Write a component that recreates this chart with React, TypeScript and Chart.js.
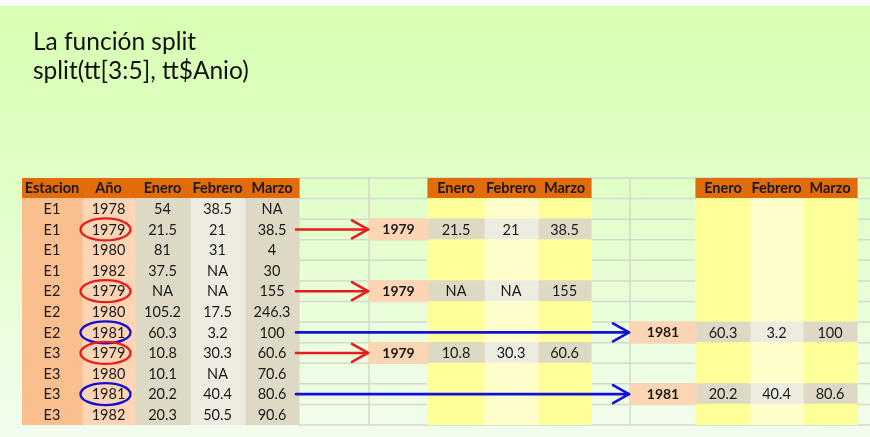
import { useEffect, useRef } from "react";
import { Chart, registerables } from "chart.js";
Chart.register(...registerables);

// ---------- data ----------
const titleLines = ["La función split", "split(tt[3:5], tt$Anio)"];
const columnNames = ["Estacion", "Año", "Enero", "Febrero", "Marzo"];
const valueNames = ["Enero", "Febrero", "Marzo"];
const estacion = ["E1", "E1", "E1", "E1", "E2", "E2", "E2", "E3", "E3", "E3", "E3"];
const anio = [1978, 1979, 1980, 1982, 1979, 1980, 1981, 1979, 1980, 1981, 1982];
const enero: (number | null)[] = [54, 21.5, 81, 37.5, null, 105.2, 60.3, 10.8, 10.1, 20.2, 20.3];
const febrero: (number | null)[] = [38.5, 21, 31, null, null, 17.5, 3.2, 30.3, null, 40.4, 50.5];
const marzo: (number | null)[] = [null, 38.5, 4, 30, 155, 246.3, 100, 60.6, 70.6, 80.6, 90.6];
const splitYears = [1979, 1981];

// ---------- layout / style ----------
const LEFT_COL_W = [60, 53, 55, 55, 54];
const GROUP_LAYOUT = [
  { gap: 70, yearW: 59, valW: [56, 54, 53] },
  { gap: 39, yearW: 66, valW: [54, 53, 54] },
];
const X_MAX = 848;
const HEADER = "#e26b0a";
const LEFT_COLORS = ["#fabf8f", "#fcd5b4", "#ddd9c4", "#eeece1", "#ddd9c4"];
const GROUP_COLORS = ["#ffff99", "#ffffcc", "#ffff99"];
const HIT_COLORS = ["#ddd9c4", "#eeece1", "#ddd9c4"];
const YEAR_HIT = "#fcd5b4";
const MARK_COLORS = ["#ec1b1b", "#1212d4"];
const FONT = "Lato, 'Open Sans', sans-serif";
const TEXT = "#1a1a1a";

const fmt = (v: number | null) => (v === null ? "NA" : String(v));
const valueCols = [enero, febrero, marzo];
const nRows = anio.length;
const labels = ["header", ...anio.map((_, i) => "r" + i)];

function buildDatasets() {
  const ds: any[] = [];
  let cur = 0;
  const leftCols = [estacion.map(String), anio.map(String), enero.map(fmt), febrero.map(fmt), marzo.map(fmt)];
  LEFT_COL_W.forEach((w, c) => {
    const x0 = cur, x1 = cur + w;
    cur = x1;
    ds.push({
      label: columnNames[c],
      data: labels.map(() => [x0, x1]),
      backgroundColor: labels.map((_, j) => (j === 0 ? HEADER : LEFT_COLORS[c])),
      texts: [columnNames[c], ...leftCols[c]],
      boldRows: false,
    });
  });
  const leftEnd = cur;
  const groupStarts: number[] = [];
  GROUP_LAYOUT.forEach((g, gi) => {
    const year = splitYears[gi];
    cur += g.gap;
    const y0 = cur, y1 = cur + g.yearW;
    groupStarts.push(y0);
    cur = y1;
    ds.push({
      label: "year" + year,
      data: labels.map((_, j) => (j > 0 && anio[j - 1] === year ? [y0, y1] : null)),
      backgroundColor: labels.map(() => YEAR_HIT),
      texts: labels.map((_, j) => (j > 0 && anio[j - 1] === year ? String(year) : null)),
      boldRows: true,
    });
    g.valW.forEach((w, k) => {
      const x0 = cur, x1 = cur + w;
      cur = x1;
      ds.push({
        label: valueNames[k] + year,
        data: labels.map(() => [x0, x1]),
        backgroundColor: labels.map((_, j) =>
          j === 0 ? HEADER : anio[j - 1] === year ? HIT_COLORS[k] : GROUP_COLORS[k]
        ),
        texts: labels.map((_, j) =>
          j === 0 ? valueNames[k] : anio[j - 1] === year ? fmt(valueCols[k][j - 1]) : null
        ),
        boldRows: false,
      });
    });
  });
  return { ds, leftEnd, groupStarts };
}

export default function App() {
  const ref = useRef<HTMLCanvasElement | null>(null);
  useEffect(() => {
    const canvas = ref.current!;
    const { ds, leftEnd, groupStarts } = buildDatasets();

    const bgPlugin = {
      id: "bg",
      beforeDraw(chart: any) {
        const ctx = chart.ctx;
        const W = chart.width, H = chart.height;
        ctx.save();
        ctx.fillStyle = "#ffffff";
        ctx.fillRect(0, 0, W, H);
        const g = ctx.createLinearGradient(0, 6, 0, H);
        g.addColorStop(0, "#d8ffb2");
        g.addColorStop(0.4, "#e0ffc6");
        g.addColorStop(1, "#f2fdee");
        ctx.fillStyle = g;
        ctx.fillRect(0, 6, W, H - 6);
        ctx.fillStyle = "#111111";
        ctx.font = `24.5px ${FONT}`;
        ctx.textBaseline = "alphabetic";
        ctx.textAlign = "left";
        ctx.fillText(titleLines[0], 33, 50);
        ctx.fillText(titleLines[1], 33, 79);
        ctx.restore();
      },
      beforeDatasetsDraw(chart: any) {
        const ctx = chart.ctx;
        const xs = chart.scales.x;
        const area = chart.chartArea;
        const band = (area.bottom - area.top) / labels.length;
        ctx.save();
        ctx.strokeStyle = "#d2dac9";
        ctx.lineWidth = 1.5;
        const xa = xs.getPixelForValue(leftEnd);
        const xb = xs.getPixelForValue(X_MAX);
        for (let k = 0; k <= labels.length; k++) {
          const y = area.top + k * band;
          ctx.beginPath();
          ctx.moveTo(xa, y);
          ctx.lineTo(xb, y);
          ctx.stroke();
        }
        groupStarts.forEach((s) => {
          const x = xs.getPixelForValue(s);
          ctx.beginPath();
          ctx.moveTo(x, area.top);
          ctx.lineTo(x, area.bottom);
          ctx.stroke();
        });
        ctx.restore();
      },
      afterDatasetsDraw(chart: any) {
        const ctx = chart.ctx;
        const xs = chart.scales.x;
        const ys = chart.scales.y;
        ctx.save();
        ctx.textAlign = "center";
        ctx.textBaseline = "middle";
        ctx.fillStyle = TEXT;
        chart.data.datasets.forEach((d: any, i: number) => {
          const meta = chart.getDatasetMeta(i);
          meta.data.forEach((el: any, j: number) => {
            const t = d.texts[j];
            if (!t || d.data[j] === null) return;
            const p = el.getProps(["x", "base", "y"], true);
            ctx.font = j === 0 ? `bold 14.5px ${FONT}` : d.boldRows ? `bold 14px ${FONT}` : `14.5px ${FONT}`;
            ctx.fillText(t, (p.x + p.base) / 2, p.y + 0.5);
          });
        });
        // ellipses and arrows
        const yearMeta = chart.getDatasetMeta(1);
        for (let r = 0; r < nRows; r++) {
          const gi = splitYears.indexOf(anio[r]);
          if (gi < 0) continue;
          const col = MARK_COLORS[gi];
          const el = yearMeta.data[r + 1];
          const p = el.getProps(["x", "base", "y"], true);
          const cx = (p.x + p.base) / 2 - 3;
          const cy = ys.getPixelForValue(r + 1);
          ctx.strokeStyle = col;
          ctx.lineWidth = 2.3;
          ctx.beginPath();
          ctx.ellipse(cx, cy, 25, 11, 0, 0, Math.PI * 2);
          ctx.stroke();
          const x0 = xs.getPixelForValue(leftEnd) - 3;
          const x1 = xs.getPixelForValue(groupStarts[gi]) - 1;
          ctx.lineWidth = 2.6;
          ctx.lineCap = "round";
          ctx.lineJoin = "round";
          ctx.beginPath();
          ctx.moveTo(x0, cy);
          ctx.lineTo(x1, cy);
          ctx.stroke();
          ctx.beginPath();
          ctx.moveTo(x1 - 16, cy - 9);
          ctx.lineTo(x1, cy);
          ctx.lineTo(x1 - 16, cy + 9);
          ctx.stroke();
        }
        ctx.restore();
      },
    };

    const chart = new Chart(canvas, {
      type: "bar",
      data: { labels, datasets: ds },
      options: {
        indexAxis: "y",
        animation: false,
        responsive: false,
        events: [],
        layout: { padding: { left: 22, top: 178, right: 0, bottom: 12 } },
        datasets: {
          bar: {
            grouped: false,
            barPercentage: 1,
            categoryPercentage: 1,
            borderWidth: 0,
            inflateAmount: 0.6,
          } as any,
        },
        scales: {
          x: { type: "linear", min: 0, max: X_MAX, display: false },
          y: { type: "category", display: false },
        },
        plugins: { legend: { display: false }, tooltip: { enabled: false } },
      },
      plugins: [bgPlugin],
    } as any);
    return () => chart.destroy();
  }, []);
  return (
    <div style={{ position: "fixed", left: 0, top: 0, width: 870, height: 437 }}>
      <canvas ref={ref} width={870} height={437} style={{ display: "block" }} />
    </div>
  );
}
